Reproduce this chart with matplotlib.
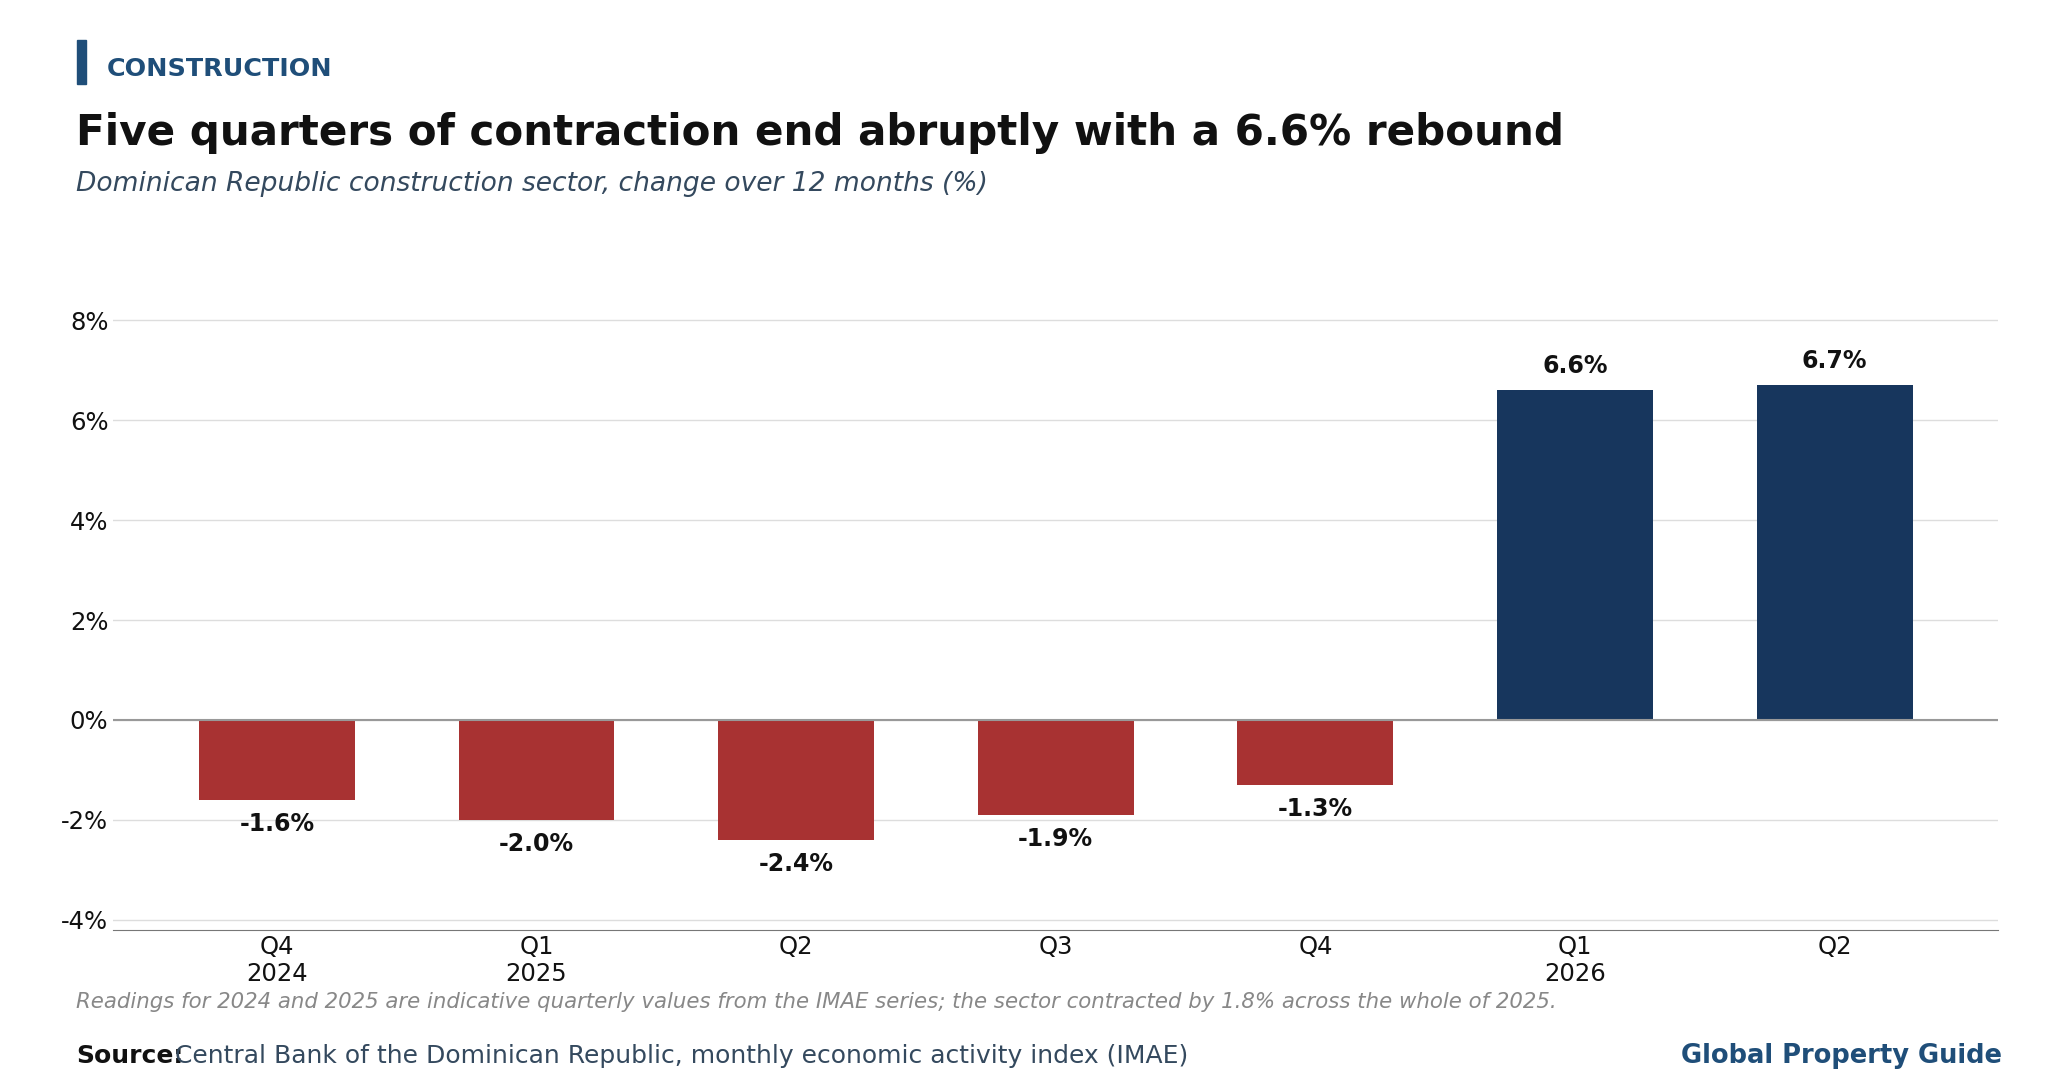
import matplotlib
matplotlib.use("Agg")
import matplotlib.pyplot as plt
from matplotlib.patches import Rectangle

quarters = ["Q4\n2024", "Q1\n2025", "Q2", "Q3", "Q4", "Q1\n2026", "Q2"]
values = [-1.6, -2.0, -2.4, -1.9, -1.3, 6.6, 6.7]
yticks = [-4, -2, 0, 2, 4, 6, 8]

RED = "#A83232"
NAVY = "#17365D"
BLUE = "#1F4E79"

fig = plt.figure(figsize=(20.6, 10.9), dpi=100)
ax = fig.add_axes([0.055, 0.147, 0.915, 0.582])

colors = [RED if v < 0 else NAVY for v in values]
x = range(len(values))
ax.bar(x, values, width=0.6, color=colors, zorder=3)
for i, v in zip(x, values):
    off = 0.25 if v > 0 else -0.25
    ax.text(i, v + off, f"{v:.1f}%", ha="center", va="bottom" if v > 0 else "top",
            fontsize=17, fontweight="bold", color="#111111")

ax.set_xlim(-0.63, 6.63)
ax.set_ylim(-4.2, 8.5)
ax.set_yticks(yticks)
ax.set_yticklabels([f"{t}%" for t in yticks])
ax.set_xticks(list(x))
ax.set_xticklabels(quarters)
ax.tick_params(axis="both", length=0, labelsize=17.5, colors="#111111")
ax.grid(axis="y", color="#dddddd", linewidth=1, zorder=0)
ax.axhline(0, color="#999999", linewidth=1.5, zorder=4)
for s in ["top", "right", "left"]:
    ax.spines[s].set_visible(False)
ax.spines["bottom"].set_color("#777777")

fig.patches.append(Rectangle((0.0372, 0.923), 0.0045, 0.04, transform=fig.transFigure,
                             color=BLUE))
fig.text(0.052, 0.937, "CONSTRUCTION", fontsize=18.3, fontweight="bold", color=BLUE, va="center")
fig.text(0.037, 0.878, "Five quarters of contraction end abruptly with a 6.6% rebound",
         fontsize=30.3, fontweight="bold", color="#111111", va="center")
fig.text(0.037, 0.831, "Dominican Republic construction sector, change over 12 months (%)",
         fontsize=19.1, style="italic", color="#34495e", va="center")
fig.text(0.037, 0.081, "Readings for 2024 and 2025 are indicative quarterly values from the IMAE series; "
         "the sector contracted by 1.8% across the whole of 2025.",
         fontsize=15.3, style="italic", color="#888888", va="center")
fig.text(0.037, 0.031, "Source:", fontsize=18, fontweight="bold", color="#111111", va="center")
fig.text(0.085, 0.031, "Central Bank of the Dominican Republic, monthly economic activity index (IMAE)",
         fontsize=18, color="#34495e", va="center")
fig.text(0.972, 0.031, "Global Property Guide", fontsize=18.5, fontweight="bold", color=BLUE,
         ha="right", va="center")

fig.savefig("out.png", dpi=100)
